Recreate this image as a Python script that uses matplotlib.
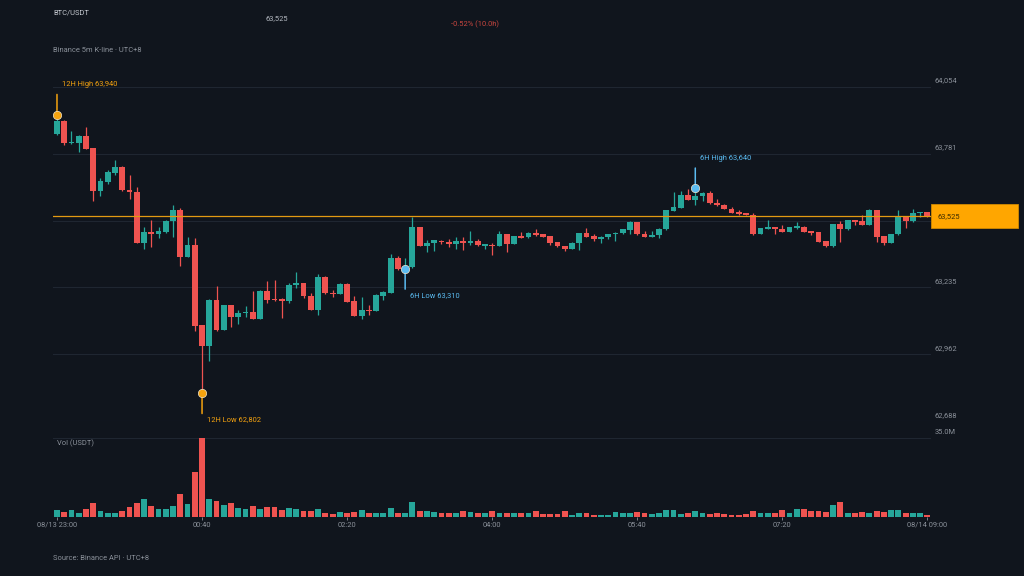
import numpy as np
import pandas as pd
import matplotlib
matplotlib.use("Agg")
import matplotlib.pyplot as plt
from matplotlib.patches import Rectangle
from matplotlib.transforms import blended_transform_factory

plt.rcParams['font.family'] = ['Roboto', 'DejaVu Sans']

BG = '#10151d'
GRID = '#1f2631'
TXT = '#8b919a'
UP = '#26a69a'
DOWN = '#ef5350'
ORANGE = '#f5a30f'
BLUE = '#5bbcf2'

# 5m candles, 08/13 23:00 -> 08/14 09:00
opens = [63860, 63915, 63824, 63826, 63853, 63804, 63629, 63667, 63703, 63728,
         63633, 63625, 63418, 63461, 63451, 63463, 63504, 63551, 63361, 63410,
         63081, 62997, 63184, 63062, 63162, 63116, 63130, 63133, 63105, 63222,
         63187, 63187, 63179, 63245, 63252, 63201, 63143, 63279, 63214, 63209,
         63249, 63179, 63120, 63143, 63138, 63201, 63214, 63353, 63313, 63317,
         63481, 63404, 63415, 63426, 63421, 63411, 63423, 63418, 63426, 63404,
         63410, 63404, 63451, 63413, 63445, 63440, 63456, 63451, 63445, 63421,
         63404, 63391, 63418, 63456, 63445, 63432, 63441, 63452, 63456, 63470,
         63502, 63453, 63442, 63448, 63472, 63548, 63559, 63614, 63592, 63606,
         63622, 63581, 63573, 63557, 63542, 63538, 63532, 63453, 63475, 63481,
         63475, 63462, 63479, 63483, 63466, 63462, 63423, 63402, 63494, 63472,
         63510, 63505, 63491, 63551, 63445, 63418, 63451, 63527, 63508, 63538,
         63543]
highs = [63940.4, 63918, 63875, 63855, 63891, 63805, 63683, 63714, 63755, 63730,
         63694, 63644, 63483, 63510, 63483, 63510, 63572, 63558, 63440, 63437,
         63082, 63186, 63239, 63163, 63164, 63141, 63160, 63222, 63223, 63263,
         63266, 63191, 63252, 63296, 63254, 63214, 63290, 63282, 63225, 63252,
         63252, 63201, 63195, 63162, 63206, 63219, 63372, 63364, 63353, 63521,
         63482, 63429, 63429, 63429, 63432, 63442, 63440, 63467, 63434, 63413,
         63415, 63467, 63453, 63446, 63461, 63461, 63475, 63453, 63446, 63422,
         63405, 63419, 63457, 63478, 63451, 63443, 63454, 63461, 63475, 63505,
         63503, 63464, 63467, 63476, 63552, 63625, 63630, 63638, 63640, 63625,
         63627, 63597, 63574, 63562, 63551, 63540, 63540, 63479, 63510, 63483,
         63491, 63482, 63502, 63484, 63467, 63463, 63424, 63495, 63508, 63511,
         63511, 63530, 63554, 63552, 63446, 63454, 63551, 63528, 63554, 63544,
         63544]
lows = [63857, 63817, 63821, 63789, 63800, 63589, 63610, 63659, 63694, 63629,
        63596, 63416, 63392, 63400, 63436, 63456, 63442, 63324, 63360, 63059,
        62802.3, 62933, 63055, 63060, 63073, 63085, 63113, 63104, 63104, 63171,
        63180, 63110, 63173, 63232, 63191, 63142, 63123, 63208, 63195, 63208,
        63176, 63119, 63105, 63122, 63137, 63184, 63213, 63307, 63310, 63316,
        63402, 63381, 63384, 63413, 63399, 63391, 63388, 63408, 63404, 63391,
        63368, 63403, 63381, 63412, 63436, 63436, 63446, 63440, 63407, 63398,
        63383, 63390, 63388, 63440, 63426, 63415, 63434, 63426, 63453, 63453,
        63448, 63440, 63440, 63437, 63471, 63546, 63558, 63591, 63573, 63589,
        63577, 63569, 63553, 63537, 63532, 63530, 63448, 63452, 63473, 63453,
        63461, 63461, 63475, 63461, 63448, 63420, 63401, 63401, 63421, 63471,
        63491, 63490, 63490, 63421, 63410, 63417, 63450, 63478, 63500, 63521,
        63524]
closes = [63915, 63826, 63828, 63853, 63801, 63629, 63668, 63706, 63728, 63631,
          63623, 63418, 63461, 63451, 63467, 63506, 63551, 63361, 63410, 63078,
          62997, 63184, 63062, 63162, 63113, 63130, 63134, 63105, 63222, 63184,
          63182, 63180, 63245, 63254, 63201, 63143, 63279, 63211, 63209, 63249,
          63177, 63120, 63143, 63138, 63205, 63218, 63353, 63309, 63318, 63481,
          63404, 63415, 63428, 63421, 63411, 63423, 63418, 63426, 63408, 63411,
          63404, 63451, 63413, 63445, 63438, 63457, 63448, 63442, 63418, 63402,
          63391, 63418, 63456, 63442, 63432, 63442, 63453, 63459, 63472, 63502,
          63451, 63442, 63449, 63475, 63551, 63562, 63614, 63592, 63608, 63622,
          63578, 63570, 63554, 63538, 63536, 63531, 63453, 63478, 63481, 63472,
          63462, 63481, 63485, 63462, 63459, 63421, 63402, 63494, 63472, 63510,
          63502, 63491, 63551, 63442, 63418, 63453, 63527, 63508, 63540, 63543,
          63525]
# volume, million USDT
volumes = [2.8, 2.1, 2.8, 1.8, 3.6, 6.0, 2.4, 1.5, 1.8, 2.4,
           4.2, 6.3, 7.7, 4.8, 3.6, 3.3, 4.8, 10.1, 5.7, 20.0,
           35.0, 8.0, 7.1, 5.1, 6.3, 3.9, 3.6, 4.8, 3.6, 4.2,
           4.2, 3.0, 3.9, 3.3, 2.7, 2.7, 3.3, 1.8, 1.2, 2.1,
           1.8, 2.1, 3.0, 1.5, 1.8, 1.8, 3.9, 1.8, 1.8, 6.4,
           2.4, 2.4, 2.1, 1.5, 1.8, 1.8, 2.4, 2.1, 1.5, 1.5,
           2.7, 1.8, 1.8, 1.5, 1.8, 1.5, 2.4, 1.2, 1.2, 1.2,
           2.7, 0.9, 1.5, 1.5, 0.9, 0.9, 0.9, 2.1, 1.5, 1.5,
           2.1, 1.5, 1.2, 1.8, 3.0, 3.0, 1.2, 1.5, 2.4, 1.5,
           1.2, 1.5, 1.2, 0.9, 0.9, 1.2, 2.4, 1.5, 1.5, 1.5,
           3.0, 1.8, 3.3, 3.3, 2.7, 2.4, 2.1, 5.4, 6.5, 1.8,
           1.5, 2.1, 1.8, 2.4, 2.1, 3.0, 3.0, 1.8, 1.5, 1.8,
           0.6]

o = np.array(opens, dtype=float)
h = np.array(highs, dtype=float)
l = np.array(lows, dtype=float)
c = np.array(closes, dtype=float)
vol = np.array(volumes) * 1e6
n = len(o)
x = np.arange(n)
times = pd.date_range('2025-08-13 23:00', periods=n, freq='5min')
colors = np.where(c >= o, UP, DOWN)

fig = plt.figure(figsize=(10.24, 5.76), dpi=100, facecolor=BG)
ax = fig.add_axes([0.0521, 0.2686, 0.8571, 0.5809])
axv = fig.add_axes([0.0521, 0.1030, 0.8571, 0.1361], sharex=ax)
for a in (ax, axv):
    a.set_facecolor(BG)
    for s in a.spines.values():
        s.set_visible(False)
    a.tick_params(left=False, right=False, labelleft=False, bottom=False, labelbottom=False)

# price panel
lo, hi = l.min(), h.max()
pad = (hi - lo) * 0.1
ylo, yhi = lo - pad, hi + pad
ax.set_ylim(ylo, yhi)
ax.set_xlim(-0.5, n - 0.5)
dpp = (yhi - ylo) / (ax.get_position().height * 576)
last = c[-1]
for t in np.linspace(ylo, yhi, 6):
    ax.axhline(t, color=GRID, lw=0.8, zorder=0)
    if abs(t - last) < 14 * dpp:
        continue  # hidden behind the last-price tag
    ax.annotate(f'{t:,.0f}', xy=(1, t), xycoords=('axes fraction', 'data'),
                xytext=(2.5, 1.5), textcoords='offset points', color=TXT,
                fontsize=5.4, va='bottom', ha='left', annotation_clip=False)

ax.vlines(x, l, h, color=colors, lw=0.9, zorder=2)
body = np.maximum(np.abs(c - o), 3)
ax.bar(x, body, bottom=np.minimum(o, c), width=0.8, color=colors, zorder=3)

# last price line + tag
ax.axhline(last, color='#e39a12', lw=0.9, zorder=4)
trans = blended_transform_factory(ax.transAxes, ax.transData)
ax.add_patch(Rectangle((1.0, last - 12 * dpp), 87 / 877.7, 24 * dpp, transform=trans,
                       clip_on=False, facecolor='#ffa600', edgecolor='#d08a00', lw=0.6, zorder=6))
ax.text(1.0 + 6 / 877.7, last, f'{last:,.0f}', transform=trans, color='#3d2c00',
        fontsize=5.4, va='center', ha='left', zorder=7)


def mark(i, price, label, color, top):
    sgn = 1 if top else -1
    ax.annotate('', xy=(i, price), xytext=(0, 14.5 * sgn), textcoords='offset points',
                arrowprops=dict(arrowstyle='-', color=color, lw=1.1, shrinkA=0, shrinkB=0),
                zorder=5)
    ax.plot(i, price, 'o', ms=6, color=color, mec='#f2e6cc', mew=0.5, zorder=6)
    ax.annotate(label, xy=(i, price), xytext=(3.5, 21.5 if top else -19),
                textcoords='offset points', color=color, fontsize=5.4,
                va='center', ha='left')


ih, il = np.argmax(h), np.argmin(l)
mark(ih, h[ih], f'12H High {h[ih]:,.0f}', ORANGE, True)
mark(il, l[il], f'12H Low {l[il]:,.0f}', ORANGE, False)
w0 = n - 73
ih6 = w0 + np.argmax(h[w0:])
il6 = w0 + np.argmin(l[w0:])
mark(ih6, h[ih6], f'6H High {h[ih6]:,.0f}', BLUE, True)
mark(il6, l[il6], f'6H Low {l[il6]:,.0f}', BLUE, False)

# volume panel
axv.bar(x, vol, width=0.8, color=colors, zorder=2)
axv.set_ylim(0, vol.max())
axv.axhline(vol.max(), color=GRID, lw=0.8, zorder=0)
axv.annotate(f'{vol.max() / 1e6:.1f}M', xy=(1, vol.max()), xycoords=('axes fraction', 'data'),
             xytext=(2.5, 1.5), textcoords='offset points', color=TXT,
             fontsize=5.4, va='bottom', ha='left', annotation_clip=False)
axv.text(0.004, 0.93, 'Vol (USDT)', transform=axv.transAxes, color=TXT,
         fontsize=5.4, va='center', ha='left')

tick_idx = x[::20]
tick_lab = [times[i].strftime('%m/%d %H:%M') if i in (0, n - 1) else times[i].strftime('%H:%M')
            for i in tick_idx]
axv.set_xticks(tick_idx)
axv.set_xticklabels(tick_lab)
axv.tick_params(bottom=True, labelbottom=True, length=2.2, width=0.6, color=TXT,
                labelsize=5.4, labelcolor=TXT, pad=1.5)

# header / footer
pct = (c[-1] - o[0]) / o[0] * 100
hours = (n - 1) * 5 / 60
fig.text(53 / 1024, 1 - 13 / 576, 'BTC/USDT', color='#c5c9d0', fontsize=5.4, va='center', ha='left')
fig.text(277 / 1024, 1 - 19 / 576, f'{last:,.0f}', color='#b5bac2', fontsize=5.4, va='center', ha='center')
fig.text(475 / 1024, 1 - 24 / 576, f'{pct:.2f}% ({hours:.1f}h)', color='#c9463f', fontsize=5.4,
         va='center', ha='center')
fig.text(53 / 1024, 1 - 50 / 576, 'Binance 5m K-line · UTC+8', color=TXT, fontsize=5.4, va='center', ha='left')
fig.text(53 / 1024, 1 - 559 / 576, 'Source: Binance API · UTC+8', color=TXT, fontsize=5.4, va='center', ha='left')

fig.savefig('out.png', dpi=100, facecolor=BG)
